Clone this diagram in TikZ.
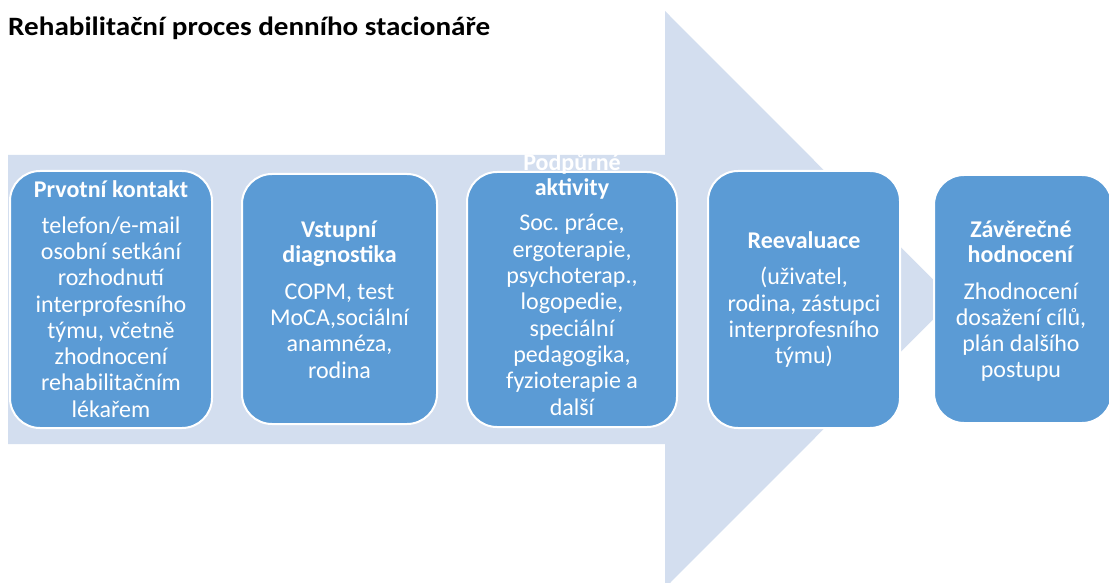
\documentclass[tikz,border=0pt]{standalone}
\usepackage{fontspec}
\setmainfont{Carlito}
\frenchspacing
\definecolor{boxblue}{RGB}{91,155,213}
\definecolor{arrowbg}{RGB}{211,222,239}
\begin{document}
\begin{tikzpicture}[x=1pt,y=-1pt,
  box/.style={draw=white,line width=2pt,fill=boxblue,rounded corners=30pt,inner sep=0pt},
  boxtext/.style={text=white,align=center,inner sep=0pt,font=\fontsize{24}{26.3}\selectfont}]
\useasboundingbox (0,0) rectangle (1109,583);
\clip (0,0) rectangle (1109,583);
\fill[arrowbg] (8,155) -- (665,155) -- (665,11) -- (953,299.5) -- (665,588) -- (665,444) -- (8,444) -- cycle;
\node[anchor=base west,inner sep=0pt,font=\fontsize{26.5}{30}\selectfont\bfseries] (title) at (8,36) {\scalebox{1.1}[1]{Rehabilitační proces denního stacionáře}};
\node[box,minimum width=202pt,minimum height=257pt] (b1) at (111,299.5) {};
\node[box,minimum width=195pt,minimum height=250pt] (b2) at (339.5,299) {};
\node[box,minimum width=210pt,minimum height=255pt] (b3) at (572,299.5) {};
\node[box,minimum width=192pt,minimum height=257pt] (b4) at (804,299.5) {};
\node[box,minimum width=178pt,minimum height=248pt] (b5) at (1023,299) {};
\node[boxtext] (t1) at (111,299) {\textbf{Prvotní kontakt}\\[9.5pt]telefon/e-mail\\osobní setkání\\rozhodnutí\\interprofesního\\týmu, včetně\\zhodnocení\\rehabilitačním\\lékařem};
\node[boxtext] (t2) at (339.5,299.5) {\textbf{Vstupní}\\[-1.3pt]\textbf{diagnostika}\\[11pt]COPM, test\\MoCA,sociální\\anamnéza,\\rodina};
\node[boxtext] (t3) at (572,284) {\textbf{Podpůrné}\\[-1.3pt]\textbf{aktivity}\\[9.5pt]Soc. práce,\\ergoterapie,\\psychoterap.,\\logopedie,\\speciální\\pedagogika,\\fyzioterapie a\\další};
\node[boxtext] (t4) at (804,299.5) {\textbf{Reevaluace}\\[10.5pt](uživatel,\\rodina, zástupci\\interprofesního\\týmu)};
\node[boxtext] (t5) at (1021,301.5) {\textbf{Závěrečné}\\[-1.3pt]\textbf{hodnocení}\\[10pt]Zhodnocení\\dosažení cílů,\\plán dalšího\\postupu};
\end{tikzpicture}
\end{document}
